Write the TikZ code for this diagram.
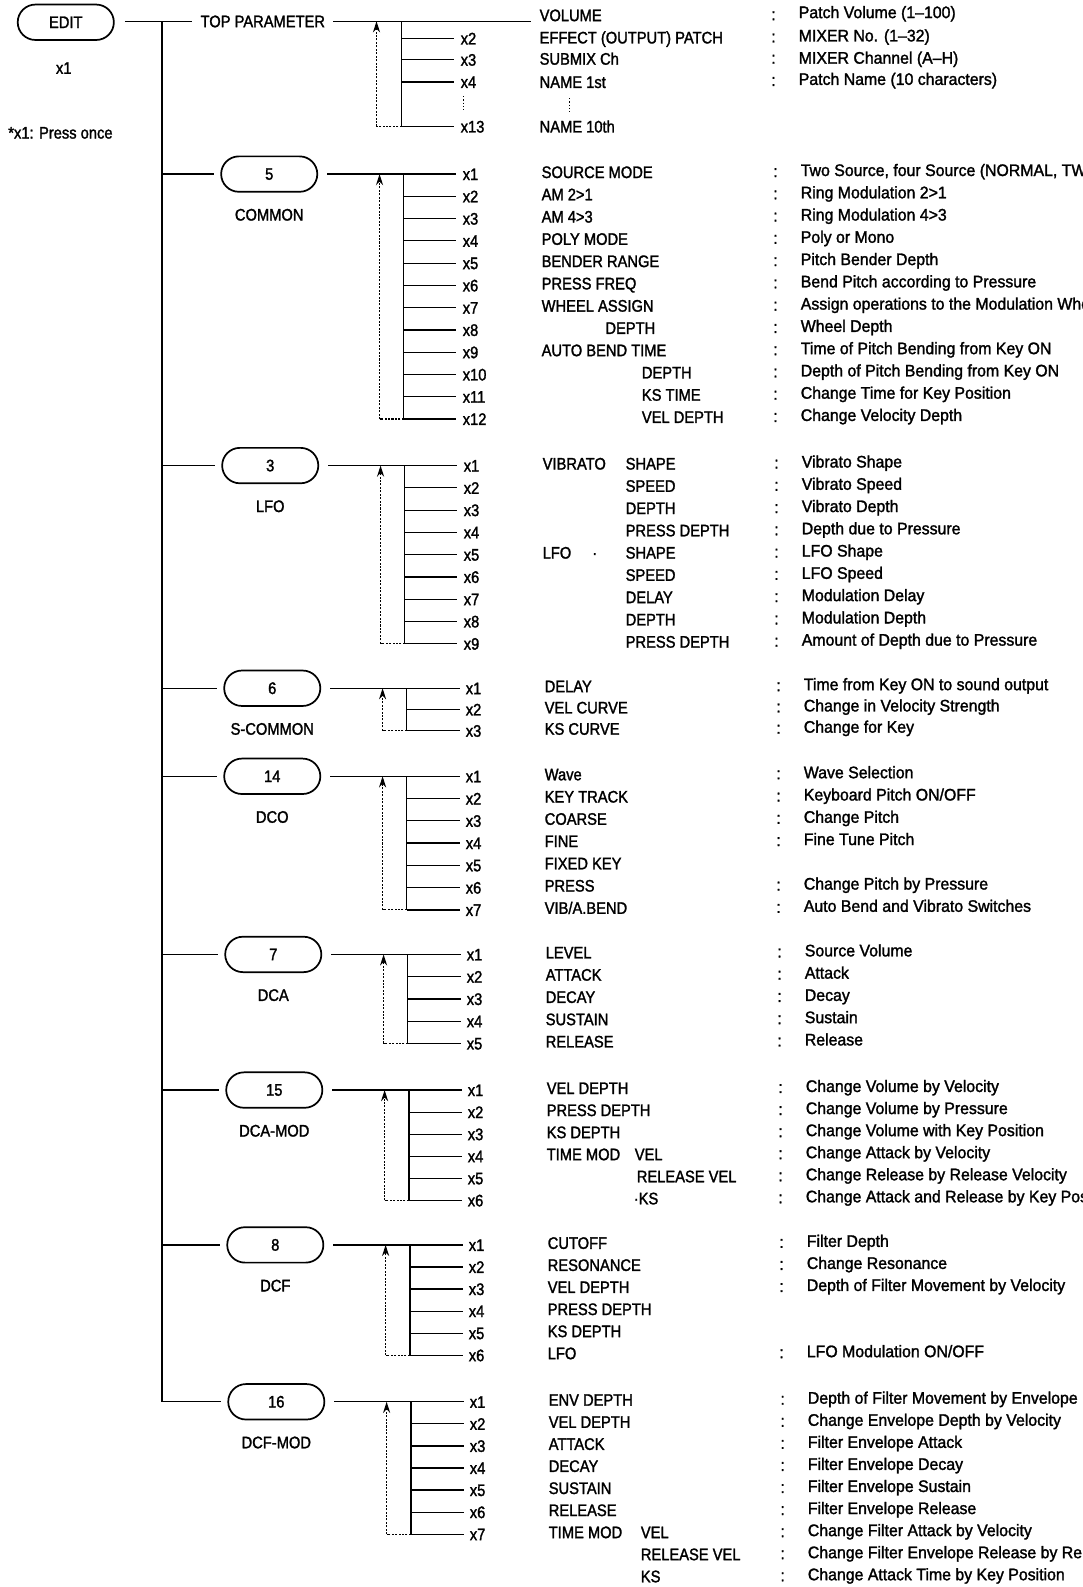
\documentclass[tikz,border=0pt]{standalone}
\usepackage{fontspec}
\setmainfont[FakeStretch=0.88,FakeBold=1.6]{Liberation Sans}
\newfontfamily\descfont[FakeStretch=0.95,FakeBold=1.6,Ligatures=TeX]{Liberation Sans}
\usetikzlibrary{arrows.meta}
\tikzset{
  fnt/.style={font=\fontsize{16.5}{16.5}\selectfont},
  stad/.style={draw, fnt, line width=1.7pt, rounded corners=17.5pt, minimum width=95pt, minimum height=35pt, inner sep=0pt},
  txt/.style={fnt, anchor=west, inner sep=0pt, text height=11.8pt, text depth=0pt},
  dtxt/.style={txt, font=\descfont\fontsize{16.5}{16.5}\selectfont},
  ctxt/.style={fnt, anchor=center, inner sep=0pt, text height=11.8pt, text depth=0pt},
  ln/.style={line width=1.2pt},
  back/.style={line width=1.1pt, dash pattern=on 2pt off 1.4pt},
  backarrow/.style={back, -{Stealth[length=11pt,width=7pt]}},
}
\newcommand\grp[7]{% #1 id #2 number #3 title #4 shift #5 y0 #6 spacing #7 nrows
  \def\gid{#1}\def\gx{#4}\def\gy{#5}\def\gs{#6}%
  \pgfmathsetmacro\gyn{#5+(#7-1)*#6}%
  \node[stad] (b#1) at (264+#4,#5) {#2};
  \node[ctxt] (t#1) at (264+#4,#5+40) {#3};
  \coordinate (k#1) at (160,#5);
  \draw[ln, shorten >=6pt] (k#1) -- (b#1);
  \foreach \i in {1,...,#7}{
    \pgfmathsetmacro\ry{#5+(\i-1)*#6}
    \node[txt] (x#1-\i) at (455+#4,\ry) {x\i};
    \coordinate (v#1-\i) at (397+#4,\ry);
  }
  \draw[ln, shorten <=9pt, shorten >=6pt] (b#1) -- (x#1-1);
  \foreach \i in {2,...,#7}{\draw[ln, shorten >=6pt] (v#1-\i) -- (x#1-\i);}
  \draw[ln] (v#1-1) -- (v#1-#7);
  \coordinate (a#1-t) at (373+#4,#5);
  \coordinate (a#1-b) at (373+#4,\gyn);
  \draw[back] (v#1-#7) -- (a#1-b);
  \draw[backarrow] (a#1-b) -- (a#1-t);
}
\newcommand\itm[4]{% row, x, item, desc
  \pgfmathsetmacro\ry{\gy+(#1-1)*\gs}%
  \node[txt] (i\gid-#1) at (#2+\gx,\ry-2) {#3};
  \if\relax\detokenize{#4}\relax\else
    \node[txt] (c\gid-#1) at (762+\gx,\ry-3) {:};
    \node[dtxt] (d\gid-#1) at (789+\gx,\ry-4) {#4};
  \fi}
\newcommand\sub[4]{% row, x, text, suffix
  \pgfmathsetmacro\ry{\gy+(#1-1)*\gs}%
  \node[txt] (s\gid-#1-#4) at (#2+\gx,\ry-2) {#3};}
\begin{document}
\begin{tikzpicture}[x=1pt,y=-1pt]
\useasboundingbox (0,0) rectangle (1070,1568);
\clip (0,0) rectangle (1070,1568);
% EDIT
\node[stad] (edit) at (65,22) {EDIT};
\node[ctxt] (x1e) at (63,67) {x1};
\node[txt] (note) at (8,131) {*x1: Press once};
\coordinate (k0) at (160,21);
\node[txt] (top) at (198,21) {TOP PARAMETER};
\draw[ln, shorten <=10pt] (edit.east |- k0) -- (k0);
\draw[ln, shorten >=8pt] (k0) -- (top);
\coordinate (topend) at (525,21);
\draw[ln, shorten <=8pt] (top) -- (topend);
% top rows
\node[txt] (xT-2) at (455,38) {x2};
\node[txt] (xT-3) at (455,59) {x3};
\node[txt] (xT-4) at (455,81) {x4};
\node[txt] (xT-13) at (455,125) {x13};
\coordinate (vT-1) at (397,21);
\foreach \r/\yy in {2/38,3/59,4/81,13/125}{
  \coordinate (vT-\r) at (397,\yy);
  \draw[ln, shorten >=6pt] (vT-\r) -- (xT-\r);
}
\draw[ln] (vT-1) -- (vT-13);
\coordinate (aT-t) at (372,21);
\coordinate (aT-b) at (372,125);
\draw[back] (vT-13) -- (aT-b);
\draw[backarrow] (aT-b) -- (aT-t);
\coordinate (dT1) at (458,95); \coordinate (dT2) at (458,110);
\draw[dotted, line width=1.2pt] (dT1) -- (dT2);
\coordinate (dT3) at (563,97); \coordinate (dT4) at (563,111);
\draw[dotted, line width=1.2pt] (dT3) -- (dT4);
\node[txt] (iT-1) at (533,15) {VOLUME};
\node[txt] (cT-1) at (762,14) {:};
\node[dtxt] (dT-1) at (789,12) {Patch Volume (1–100)};
\node[txt] (iT-2) at (533,37) {EFFECT (OUTPUT) PATCH};
\node[txt] (cT-2) at (762,36) {:};
\node[dtxt] (dT-2) at (789,35) {MIXER No. (1–32)};
\node[txt] (iT-3) at (533,58) {SUBMIX Ch};
\node[txt] (cT-3) at (762,57) {:};
\node[dtxt] (dT-3) at (789,57) {MIXER Channel (A–H)};
\node[txt] (iT-4) at (533,81) {NAME 1st};
\node[txt] (cT-4) at (762,79) {:};
\node[dtxt] (dT-4) at (789,78) {Patch Name (10 characters)};
\node[txt] (iT-13) at (533,125) {NAME 10th};
% COMMON
\grp{COM}{5}{COMMON}{2}{172}{22}{12}
\itm{1}{533}{SOURCE MODE}{Two Source, four Source (NORMAL, TWIN, DOUBLE)}
\itm{2}{533}{AM 2>1}{Ring Modulation 2>1}
\itm{3}{533}{AM 4>3}{Ring Modulation 4>3}
\itm{4}{533}{POLY MODE}{Poly or Mono}
\itm{5}{533}{BENDER RANGE}{Pitch Bender Depth}
\itm{6}{533}{PRESS FREQ}{Bend Pitch according to Pressure}
\itm{7}{533}{WHEEL ASSIGN}{Assign operations to the Modulation Wheel}
\itm{8}{596}{DEPTH}{Wheel Depth}
\itm{9}{533}{AUTO BEND TIME}{Time of Pitch Bending from Key ON}
\itm{10}{632}{DEPTH}{Depth of Pitch Bending from Key ON}
\itm{11}{632}{KS TIME}{Change Time for Key Position}
\itm{12}{632}{VEL DEPTH}{Change Velocity Depth}
% LFO
\grp{LFO}{3}{LFO}{3}{460}{22}{9}
\sub{1}{533}{VIBRATO}{a}
\itm{1}{615}{SHAPE}{Vibrato Shape}
\itm{2}{615}{SPEED}{Vibrato Speed}
\itm{3}{615}{DEPTH}{Vibrato Depth}
\itm{4}{615}{PRESS DEPTH}{Depth due to Pressure}
\sub{5}{533}{LFO}{a}
\sub{5}{582}{·}{b}
\itm{5}{615}{SHAPE}{LFO Shape}
\itm{6}{615}{SPEED}{LFO Speed}
\itm{7}{615}{DELAY}{Modulation Delay}
\itm{8}{615}{DEPTH}{Modulation Depth}
\itm{9}{615}{PRESS DEPTH}{Amount of Depth due to Pressure}
% S-COMMON
\grp{SCO}{6}{S-COMMON}{5}{680}{21}{3}
\itm{1}{533}{DELAY}{Time from Key ON to sound output}
\itm{2}{533}{VEL CURVE}{Change in Velocity Strength}
\itm{3}{533}{KS CURVE}{Change for Key}
% DCO
\grp{DCO}{14}{DCO}{5}{767}{22}{7}
\itm{1}{533}{Wave}{Wave Selection}
\itm{2}{533}{KEY TRACK}{Keyboard Pitch ON/OFF}
\itm{3}{533}{COARSE}{Change Pitch}
\itm{4}{533}{FINE}{Fine Tune Pitch}
\itm{5}{533}{FIXED KEY}{}
\itm{6}{533}{PRESS}{Change Pitch by Pressure}
\itm{7}{533}{VIB/A.BEND}{Auto Bend and Vibrato Switches}
% DCA
\grp{DCA}{7}{DCA}{6}{943}{22}{5}
\itm{1}{533}{LEVEL}{Source Volume}
\itm{2}{533}{ATTACK}{Attack}
\itm{3}{533}{DECAY}{Decay}
\itm{4}{533}{SUSTAIN}{Sustain}
\itm{5}{533}{RELEASE}{Release}
% DCA-MOD
\grp{DCAM}{15}{DCA-MOD}{7}{1077}{21.8}{6}
\itm{1}{533}{VEL DEPTH}{Change Volume by Velocity}
\itm{2}{533}{PRESS DEPTH}{Change Volume by Pressure}
\itm{3}{533}{KS DEPTH}{Change Volume with Key Position}
\sub{4}{533}{TIME MOD}{a}
\itm{4}{620}{VEL}{Change Attack by Velocity}
\itm{5}{622}{RELEASE VEL}{Change Release by Release Velocity}
\itm{6}{619}{·KS}{Change Attack and Release by Key Position}
% DCF
\grp{DCF}{8}{DCF}{8}{1230}{21.8}{6}
\itm{1}{533}{CUTOFF}{Filter Depth}
\itm{2}{533}{RESONANCE}{Change Resonance}
\itm{3}{533}{VEL DEPTH}{Depth of Filter Movement by Velocity}
\itm{4}{533}{PRESS DEPTH}{}
\itm{5}{533}{KS DEPTH}{}
\itm{6}{533}{LFO}{LFO Modulation ON/OFF}
% DCF-MOD
\grp{DCFM}{16}{DCF-MOD}{9}{1385}{21.8}{7}
\itm{1}{533}{ENV DEPTH}{Depth of Filter Movement by Envelope}
\itm{2}{533}{VEL DEPTH}{Change Envelope Depth by Velocity}
\itm{3}{533}{ATTACK}{Filter Envelope Attack}
\itm{4}{533}{DECAY}{Filter Envelope Decay}
\itm{5}{533}{SUSTAIN}{Filter Envelope Sustain}
\itm{6}{533}{RELEASE}{Filter Envelope Release}
\sub{7}{533}{TIME MOD}{a}
\itm{7}{624}{VEL}{Change Filter Attack by Velocity}
\itm{8}{624}{RELEASE VEL}{Change Filter Envelope Release by Release Velocity}
\itm{9}{624}{KS}{Change Attack Time by Key Position}
% trunk
\draw[ln] (k0) -- (kDCFM);
\end{tikzpicture}
\end{document}
